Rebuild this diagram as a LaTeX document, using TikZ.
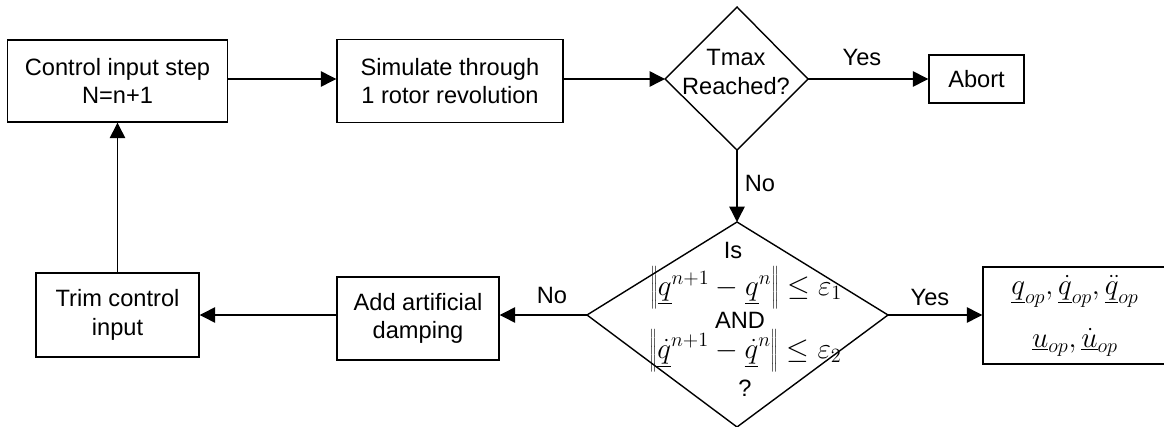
\documentclass[tikz,border=0pt]{standalone}
\usepackage{fontspec}
\setmainfont{Liberation Sans}
\usetikzlibrary{arrows.meta}
\newcommand{\normstrut}{\vrule height 17pt depth 9pt width 0pt}

\begin{document}
\begin{tikzpicture}[x=0.025cm,y=-0.025cm,line width=1pt,
  every node/.style={font=\fontsize{16.8}{20.3}\selectfont},
  block/.style={draw,rectangle,align=center,inner sep=0pt},
  lbl/.style={inner sep=0pt},
  eqn/.style={inner sep=0pt,font=\fontsize{20}{24}\selectfont},
  arr/.style={-{Triangle[length=11pt,width=11pt]}}]
\clip (0,0) rectangle (1164,427);

% boxes
\node[block,minimum width=5.5cm,minimum height=2.05cm] (ctrl) at (117.5,81) {Control input step\\N=n+1};
\node[block,minimum width=5.65cm,minimum height=2.075cm] (sim) at (450,81) {Simulate through\\1 rotor revolution};
\node[block,minimum width=2.375cm,minimum height=1.2cm] (abort) at (976.5,79) {Abort};
\node[block,minimum width=4.075cm,minimum height=2.1cm] (trim) at (117.5,315) {Trim control\\input};
\node[block,minimum width=4.05cm,minimum height=2.075cm] (damp) at (418,318.5) {Add artificial\\damping};
\node[block,minimum width=4.6cm,minimum height=2.425cm,font=\fontsize{20}{24}\selectfont] (trimout) at (1075,315.5)
  {$\underline{q}_{op},\underline{\dot{q}}_{op},\underline{\ddot{q}}_{op}$\\[14pt]$\underline{u}_{op},\underline{\dot{u}}_{op}$};

% Tmax diamond
\coordinate (tmaxT) at (737,7);
\coordinate (tmaxR) at (808,79);
\coordinate (tmaxB) at (737,150);
\coordinate (tmaxL) at (665,79);
\draw (tmaxT) -- (tmaxR) -- (tmaxB) -- (tmaxL) -- cycle;
\node[lbl,align=center] (tmax) at (736,72) {Tmax\\Reached?};

% convergence diamond
\coordinate (convT) at (737,222);
\coordinate (convR) at (888,315);
\coordinate (convB) at (737,427);
\coordinate (convL) at (587,315);
\draw (convT) -- (convR) -- (convB) -- (convL) -- cycle;
\node[lbl] (convis) at (733,250) {Is};
\node[eqn] (conveqa) at (746,288) {$\left\|\normstrut\underline{q}^{n+1}-\underline{q}^{n}\right\|\le\varepsilon_1$};
\node[lbl] (convand) at (740,320) {AND};
\node[eqn] (conveqb) at (745.5,351) {$\left\|\normstrut\underline{\dot{q}}^{n+1}-\underline{\dot{q}}^{n}\right\|\le\varepsilon_2$};
\node[lbl] (convq) at (745,388) {?};

% connectors
\draw[arr] (ctrl.east |- tmaxL) -- (sim.west |- tmaxL);
\draw[arr] (sim.east |- tmaxL) -- (tmaxL);
\draw[arr] (tmaxR) -- (abort);
\node[lbl] (yesabort) at (862,57) {Yes};
\draw[arr] (tmaxB) -- (convT);
\node[lbl] (notmax) at (760,183) {No};
\draw[arr] (convR) -- (trimout.west |- convR);
\node[lbl] (yesconv) at (930,297) {Yes};
\draw[arr] (convL) -- (damp.east |- convL);
\node[lbl] (noconv) at (552,295) {No};
\draw[arr] (damp.west |- convL) -- (trim.east |- convL);
\draw[arr] (trim) -- (ctrl);

\end{tikzpicture}
\end{document}
